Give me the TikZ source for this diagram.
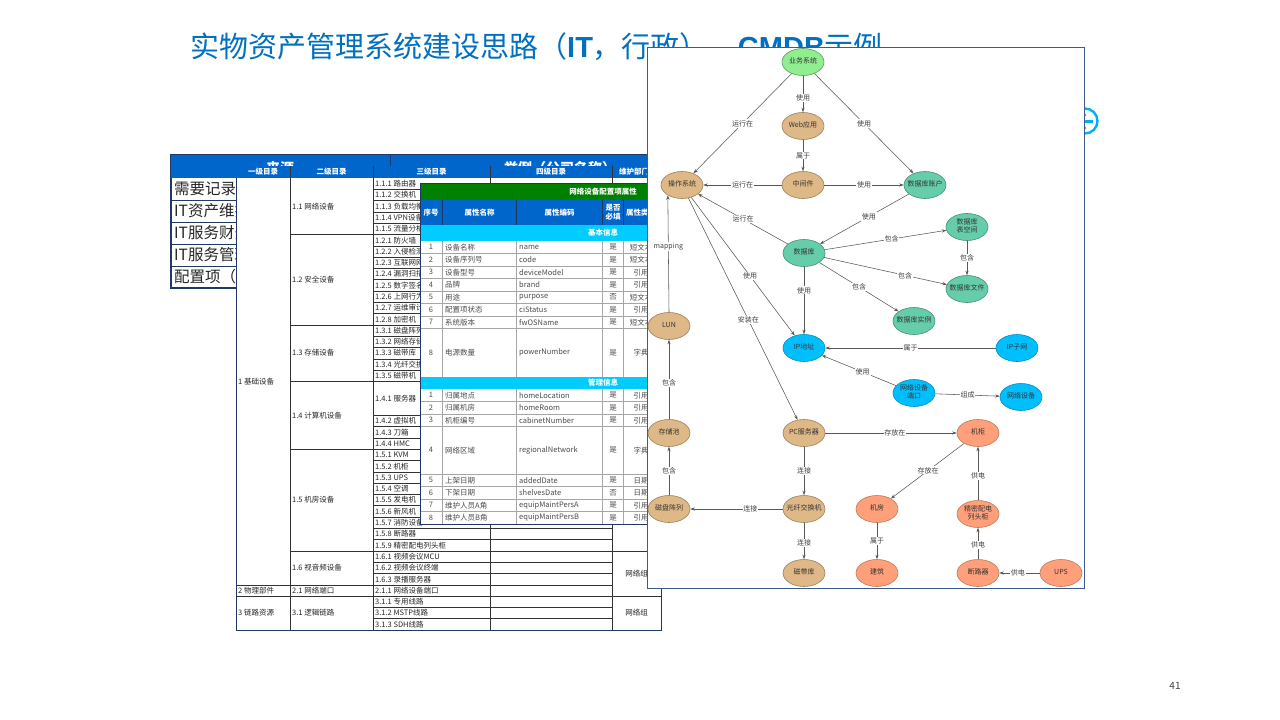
\documentclass[tikz,border=0pt]{standalone}
\usepackage{fontspec}
\setmainfont{Noto Sans CJK SC}
\newfontfamily\arialf{Liberation Sans}
\usetikzlibrary{shapes.geometric,arrows.meta,calc}
\definecolor{ttl}{RGB}{0,112,192}
\definecolor{hdr}{RGB}{0,102,204}
\definecolor{tborder}{RGB}{31,56,100}
\definecolor{tgreen}{RGB}{0,128,0}
\definecolor{tcyan}{RGB}{0,204,255}
\definecolor{ngreen}{RGB}{144,238,144}
\definecolor{ntan}{RGB}{222,184,135}
\definecolor{naqua}{RGB}{102,205,170}
\definecolor{nblue}{RGB}{0,191,255}
\definecolor{nsalmon}{RGB}{255,160,122}
\definecolor{iconc}{RGB}{0,176,240}
\definecolor{panelb}{RGB}{60,90,140}
\newcommand{\nt}[1]{\makebox[0pt]{\begin{tabular}{@{}c@{}}#1\end{tabular}}}
\begin{document}
\begin{tikzpicture}[x=1pt,y=-1pt,
  gn/.style={ellipse,draw,minimum width=42pt,minimum height=27pt,inner sep=0pt,line width=0.6pt,font=\fontsize{7}{8.5}\selectfont,text=black!80},
  gtan/.style={gn,fill=ntan,draw=ntan!70!black},
  ggreen/.style={gn,fill=ngreen,draw=ngreen!65!black},
  gaqua/.style={gn,fill=naqua,draw=naqua!70!black},
  gblue/.style={gn,fill=nblue,draw=nblue!75!black},
  gsalmon/.style={gn,fill=nsalmon,draw=nsalmon!75!black},
  ed/.style={draw=black!65,line width=0.55pt,-{Stealth[length=4.5pt,width=3.2pt]}},
  el/.style={fill=white,inner sep=0.8pt,font=\fontsize{7}{8}\selectfont,text=black!75},
  tl/.style={draw=black!80,line width=0.6pt},
  tl2/.style={draw=black!35,line width=0.5pt},
  hd/.style={font=\fontsize{7.5}{9}\selectfont\bfseries,text=white,inner sep=0pt},
  tx/.style={font=\fontsize{7.5}{9}\selectfont,text=black!85,inner sep=0pt},
  tx3/.style={font=\fontsize{7.5}{9}\selectfont,text=black!70,inner sep=0pt}
]
\useasboundingbox (0,0) rectangle (1280,720);
\fill[white] (0,0) rectangle (1280,720);

% title
\node[anchor=base west,inner sep=0pt,text=ttl,font=\fontsize{29}{32}\selectfont] (title) at (190,57)
  {实物资产管理系统建设思路（{\arialf\bfseries IT}，行政）、{\arialf\bfseries CMDB}示例};

% icon behind panel
\draw[iconc,line width=2.4pt] (1085,121) circle (12.5);
\fill[iconc] (1077,119.6) rectangle (1093,122.6);
\fill[iconc] (1085,115) circle (1.3);
\fill[iconc] (1085,128) circle (1.3);

% back table
\filldraw[fill=white,draw=tborder,line width=1.2pt] (171,155) rectangle (661,288);
\fill[hdr] (171,155) rectangle (661,178);
\draw[tborder,line width=0.8pt] (390,155) -- (390,178);
\node[font=\fontsize{14}{16}\selectfont\bfseries,text=white,inner sep=0pt] (bt1) at (280,168) {来源};
\node[font=\fontsize{14}{16}\selectfont\bfseries,text=white,inner sep=0pt] (bt2) at (560,168) {举例（公司名称）};
\foreach \i/\t in {0/需要记录的信息, 1/IT资产维护, 2/IT服务财务, 3/IT服务管理, 4/配置项（CI）}
  \node[anchor=west,font=\fontsize{15.5}{17}\selectfont,text=black!85,inner sep=0pt] (br\i) at (174,189+\i*21.9) {\t};
\foreach \y in {200,222,244,266}
  \draw[tborder,line width=0.8pt] (171,\y) -- (661,\y);

% front table (catalogue)
\filldraw[fill=white,draw=tborder,line width=1pt] (236,166) rectangle (661,630);
\fill[hdr] (236,166) rectangle (661,178);
\node[hd] (h1) at (263,172) {一级目录};
\node[hd] (h2) at (331.5,172) {二级目录};
\node[hd] (h3) at (431.5,172) {三级目录};
\node[hd] (h4) at (551,172) {四级目录};
\node[hd] (h5) at (634,172) {维护部门};
\foreach \x in {290,373,490,612}
  \draw[tl] (\x,166) -- (\x,630);
\foreach \i in {1,...,18,21,22,...,39}
  \draw[tl] (373,178+\i*11.3) -- (612,178+\i*11.3);
\foreach \i in {5,13,18,24,33,36,37}
  \draw[tl] (290,178+\i*11.3) -- (373,178+\i*11.3);
\foreach \i in {36,37}
  \draw[tl] (236,178+\i*11.3) -- (290,178+\i*11.3);
\foreach \i in {33,37}
  \draw[tl] (612,178+\i*11.3) -- (661,178+\i*11.3);
\foreach \i/\t in {0/1.1.1 路由器, 1/1.1.2 交换机, 2/1.1.3 负载均衡, 3/1.1.4 VPN设备, 4/1.1.5 流量分析设备,
  5/1.2.1 防火墙, 6/1.2.2 入侵检测, 7/1.2.3 互联网网关, 8/1.2.4 漏洞扫描, 9/1.2.5 数字签名, 10/1.2.6 上网行为管理,
  11/1.2.7 运维审计, 12/1.2.8 加密机, 13/1.3.1 磁盘阵列, 14/1.3.2 网络存储, 15/1.3.3 磁带库, 16/1.3.4 光纤交换机,
  17/1.3.5 磁带机, 19/1.4.1 服务器, 21/1.4.2 虚拟机, 22/1.4.3 刀箱, 23/1.4.4 HMC, 24/1.5.1 KVM, 25/1.5.2 机柜,
  26/1.5.3 UPS, 27/1.5.4 空调, 28/1.5.5 发电机, 29/1.5.6 新风机, 30/1.5.7 消防设备, 31/1.5.8 断路器,
  32/1.5.9 精密配电列头柜, 33/1.6.1 视频会议MCU, 34/1.6.2 视频会议终端, 35/1.6.3 录播服务器,
  36/2.1.1 网络设备端口, 37/3.1.1 专用线路, 38/3.1.2 MSTP线路, 39/3.1.3 SDH线路}
  \node[tx,anchor=west] (c3-\i) at (375,183.65+\i*11.3) {\t};
\foreach \n/\t/\y in {a/1.1 网络设备/206.3, b/1.2 安全设备/279.7, c/1.3 存储设备/353.1, d/1.4 计算机设备/415.3,
  e/1.5 机房设备/500.1, f/1.6 视音频设备/567.9, g/2.1 网络端口/590.4, h/3.1 逻辑链路/613}
  \node[tx,anchor=west] (c2\n) at (292,\y) {\t};
\node[tx,anchor=west] (c1a) at (238,381.4) {1 基础设备};
\node[tx,anchor=west] (c1b) at (238,590.4) {2 物理部件};
\node[tx,anchor=west] (c1c) at (238,613) {3 链路资源};
\node[tx] (m1) at (636.5,573.5) {网络组};
\node[tx] (m2) at (636.5,613) {网络组};

% attribute table
\fill[white] (420,183) rectangle (786,524);
\fill[tgreen] (420,183) rectangle (786,200);
\fill[hdr] (420,200) rectangle (786,225);
\fill[tcyan] (420,225) rectangle (786,241);
\fill[tcyan] (420,377) rectangle (786,389);
\node[hd] (g1) at (603,191.5) {网络设备配置项属性};
\node[hd] (g2) at (603,233) {基本信息};
\node[hd] (g3) at (603,383) {管理信息};
\node[hd] (k1) at (431,212.5) {序号};
\node[hd] (k2) at (479.5,212.5) {属性名称};
\node[hd] (k3) at (559.5,212.5) {属性编码};
\node[hd,align=center,font=\fontsize{7.5}{9.5}\selectfont\bfseries] (k4) at (613,212.5) {是否\\必填};
\node[hd] (k5) at (641,212.5) {属性类型};
\foreach \x in {442.5,516.5,602.5,623,660} {
  \draw[tborder,line width=0.6pt] (\x,200) -- (\x,225);
  \draw[tl2] (\x,241) -- (\x,377);
  \draw[tl2] (\x,389) -- (\x,524);
}
\foreach \y in {253.5,266,278.5,291,303.5,316,328.5,401.5,414,426.5,474,486.5,499,511.5}
  \draw[tl2] (420,\y) -- (786,\y);
\draw[tborder,line width=0.8pt] (420,183) rectangle (786,524);
\foreach \n/\a/\b/\c/\d/\y in {1/设备名称/name/是/短文本/247.25, 2/设备序列号/code/是/短文本/259.75,
  3/设备型号/deviceModel/是/引用/272.25, 4/品牌/brand/是/引用/284.75, 5/用途/purpose/否/短文本/297.25,
  6/配置项状态/ciStatus/是/引用/309.75, 7/系统版本/fwOSName/是/短文本/322.25, 8/电源数量/powerNumber/是/字典/352.75}
{
  \node[tx3] at (431,\y) {\n};
  \node[tx3,anchor=west] at (445,\y) {\a};
  \node[tx3,anchor=west] at (519,\y) {\b};
  \node[tx3] at (613,\y) {\c};
  \node[tx3] at (641,\y) {\d};
}
\foreach \n/\a/\b/\c/\d/\y in {1/归属地点/homeLocation/是/引用/395.25, 2/归属机房/homeRoom/是/引用/407.75,
  3/机柜编号/cabinetNumber/是/引用/420.25, 4/网络区域/regionalNetwork/是/字典/450.25,
  5/上架日期/addedDate/是/日期/480.25, 6/下架日期/shelvesDate/否/日期/492.75,
  7/维护人员A角/equipMaintPersA/是/引用/505.25, 8/维护人员B角/equipMaintPersB/是/引用/517.75}
{
  \node[tx3] at (431,\y) {\n};
  \node[tx3,anchor=west] at (445,\y) {\a};
  \node[tx3,anchor=west] at (519,\y) {\b};
  \node[tx3] at (613,\y) {\c};
  \node[tx3] at (641,\y) {\d};
}

% graph panel
\filldraw[fill=white,draw=panelb,line width=0.8pt] (647,47) rectangle (1084,588);

\node[ggreen] (yw) at (803,62) {\nt{业务系统}};
\node[gtan] (web) at (803,126) {\nt{Web应用}};
\node[gtan] (mid) at (803,185) {\nt{中间件}};
\node[gtan] (os) at (682,185) {\nt{操作系统}};
\node[gaqua] (dbacc) at (925,185) {\nt{数据库账户}};
\node[gaqua] (tbs) at (967,227) {\nt{数据库\\表空间}};
\node[gaqua] (db) at (804,253) {\nt{数据库}};
\node[gaqua] (dbf) at (967,289) {\nt{数据库文件}};
\node[gaqua] (dbi) at (914,321) {\nt{数据库实例}};
\node[gtan] (lun) at (669,326) {\nt{LUN}};
\node[gblue] (ip) at (804,348) {\nt{IP地址}};
\node[gblue] (subnet) at (1017,348) {\nt{IP子网}};
\node[gblue] (port) at (914,393) {\nt{网络设备\\端口}};
\node[gblue] (netdev) at (1021,397) {\nt{网络设备}};
\node[gtan] (pool) at (669,433) {\nt{存储池}};
\node[gtan] (pc) at (804,433) {\nt{PC服务器}};
\node[gsalmon] (rack) at (978,433) {\nt{机柜}};
\node[gtan] (array) at (669,509) {\nt{磁盘阵列}};
\node[gtan] (fcsw) at (804,509) {\nt{光纤交换机}};
\node[gsalmon] (room) at (877,509) {\nt{机房}};
\node[gsalmon] (pdu) at (978,514) {\nt{精密配电\\列头柜}};
\node[gtan] (tape) at (804,573) {\nt{磁带库}};
\node[gsalmon] (bld) at (877,573) {\nt{建筑}};
\node[gsalmon] (brk) at (978,573) {\nt{断路器}};
\node[gsalmon] (ups) at (1061,573) {\nt{UPS}};

\draw[ed] (yw) -- node[el,pos=0.5]{运行在} (os);
\draw[ed] (yw) -- node[el,pos=0.6]{使用} (web);
\draw[ed] (yw) -- node[el,pos=0.5]{使用} (dbacc);
\draw[ed] (web) -- node[el]{属于} (mid);
\draw[ed] (mid) -- node[el]{运行在} (os);
\draw[ed] (mid) -- node[el]{使用} (dbacc);
\draw[ed] (dbacc) -- node[el,pos=0.45]{使用} (db);
\draw[ed] (db) -- node[el,pos=0.5]{运行在} (os);
\draw[ed] (db) -- node[el,pos=0.55]{包含} (tbs);
\draw[ed] (tbs) -- node[el]{包含} (dbf);
\draw[ed] (db) -- node[el,pos=0.66]{包含} (dbf);
\draw[ed] (db) -- node[el,pos=0.5]{包含} (dbi);
\draw[ed] (db) -- node[el,pos=0.35]{使用} (ip);
\draw[ed] (os) -- node[el,pos=0.57]{使用} (ip);
\draw[ed] (os) -- node[el,pos=0.55]{安装在} (pc);
\draw[ed] (lun.north) -- node[el,pos=0.56]{mapping} (os.-144);
\draw[ed] (subnet) -- node[el]{属于} (ip);
\draw[ed] (port) -- node[el,pos=0.45]{使用} (ip);
\draw[ed] (port) -- node[el]{组成} (netdev);
\draw[ed] (pool) -- node[el,pos=0.46]{包含} (lun);
\draw[ed] (array) -- node[el]{包含} (pool);
\draw[ed] (pc) -- node[el,pos=0.53]{存放在} (rack);
\draw[ed] (pc) -- node[el]{连接} (fcsw);
\draw[ed] (fcsw) -- node[el,pos=0.35]{连接} (array);
\draw[ed] (fcsw) -- node[el,pos=0.55]{连接} (tape);
\draw[ed] (rack) -- node[el,pos=0.49]{存放在} (room);
\draw[ed] (room) -- node[el]{属于} (bld);
\draw[ed] (pdu) -- node[el,pos=0.46]{供电} (rack);
\draw[ed] (brk) -- node[el,pos=0.45]{供电} (pdu);
\draw[ed] (ups) -- node[el,pos=0.54]{供电} (brk);

% page number
\node[font=\fontsize{10}{12}\selectfont,text=black!75,inner sep=0pt] (pgno) at (1175,686) {41};
\end{tikzpicture}
\end{document}
